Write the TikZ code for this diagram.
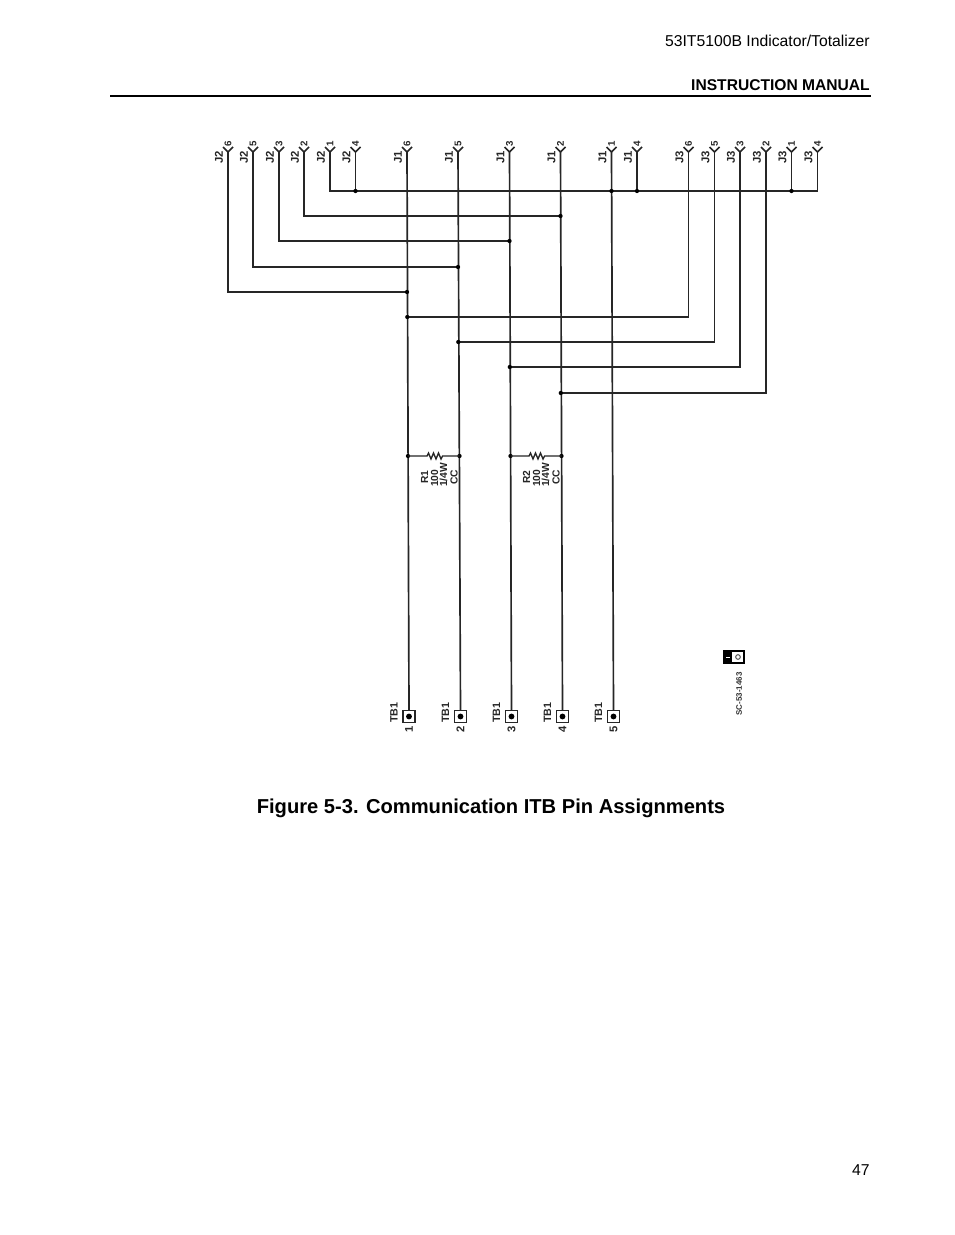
\documentclass[tikz,border=0pt]{standalone}
\usepackage{fontspec}
\setmainfont{Liberation Sans}
\tikzset{
  wire/.style={line width=1.25pt,black!85,line cap=round},
  dotnode/.style={circle,fill=black,inner sep=0pt,minimum size=3.2pt},
  pinlabel/.style={rotate=90,font=\fontsize{8.5}{8}\selectfont\bfseries,inner sep=0pt,text=black!85},
  pinnum/.style={rotate=90,font=\fontsize{7.3}{6}\selectfont\bfseries,inner sep=0pt,text=black!85},
  vee/.style={line width=1.1pt,black!85},
  valuetxt/.style={rotate=90,anchor=west,font=\fontsize{7.7}{7}\selectfont\bfseries,inner sep=0pt,text=black!85},
  tbsq/.style={draw=black!85,line width=1pt,minimum size=9pt,inner sep=0pt,fill=white},
  pagetxt/.style={inner sep=0pt,text=black}
}
% \pinat{name}{x}{y}{conn}{num}
\newcommand{\pinat}[5]{%
  \coordinate (#1) at (#2,152);
  \node[pinlabel] at (#2-9,#3) {#4};
  \node[pinnum] at (#2,143.5) {#5};
  \draw[vee] (#2-5,147) -- (#2,152) -- (#2+5,147);
}
\begin{document}
\begin{tikzpicture}[x=0.75pt,y=-0.75pt]
\useasboundingbox (0,0) rectangle (954,1235);
\fill[white] (0,0) rectangle (954,1235);
% header
\node[pagetxt,anchor=east,font=\fontsize{11.8}{12}\selectfont] (hdr) at (870,41) {53IT5100B Indicator/Totalizer};
\node[pagetxt,anchor=east,font=\fontsize{11.7}{12}\selectfont\bfseries] (man) at (870,85) {INSTRUCTION MANUAL};
\coordinate (ruleL) at (110,96); \coordinate (ruleR) at (871,96);
\draw[line width=1.5pt] (ruleL) -- (ruleR);
% pins
\pinat{a6}{228}{157.5}{J2}{6}
\pinat{a5}{253}{157.5}{J2}{5}
\pinat{a3}{279}{157.5}{J2}{3}
\pinat{a2}{304}{157.5}{J2}{2}
\pinat{a1}{330}{157.5}{J2}{1}
\pinat{a4}{355.5}{157.5}{J2}{4}
\pinat{b6}{407}{157.5}{J1}{6}
\pinat{b5}{458}{157.5}{J1}{5}
\pinat{b3}{509.5}{157.5}{J1}{3}
\pinat{b2}{560.5}{157.5}{J1}{2}
\pinat{b1}{611.5}{157.5}{J1}{1}
\pinat{b4}{637}{157.5}{J1}{4}
\pinat{c6}{688.5}{157.5}{J3}{6}
\pinat{c5}{714.5}{157.5}{J3}{5}
\pinat{c3}{740}{157.5}{J3}{3}
\pinat{c2}{766}{157.5}{J3}{2}
\pinat{c1}{791.5}{157.5}{J3}{1}
\pinat{c4}{817.5}{157.5}{J3}{4}
% terminals
\node[tbsq] (t1) at (409,716.5) {};
\node[tbsq] (t2) at (460.5,716.5) {};
\node[tbsq] (t3) at (511.5,716.5) {};
\node[tbsq] (t4) at (562.5,716.5) {};
\node[tbsq] (t5) at (613.5,716.5) {};
% buses
\draw[wire] (a1) |- (c4 |- 0,191) -- (c4);
\draw[wire] (a4) -- (a4 |- 0,191);
\draw[wire] (b4) -- (b4 |- 0,191);
\draw[wire] (c1) -- (c1 |- 0,191);
\draw[wire] (a2) |- (560.5,216);
\draw[wire] (a3) |- (509.5,241);
\draw[wire] (a5) |- (458,267);
\draw[wire] (a6) |- (407,292);
\draw[wire] (c6) |- (407.3,317);
\draw[wire] (c5) |- (458.3,342);
\draw[wire] (c3) |- (509.8,367);
\draw[wire] (c2) |- (560.8,393);
% long verticals
\draw[wire] (b6) -- (t1.north);
\draw[wire] (b5) -- (t2.north);
\draw[wire] (b3) -- (t3.north);
\draw[wire] (b2) -- (t4.north);
\draw[wire] (b1) -- (t5.north);
% dots
\foreach \p in {(355.5,191),(611.5,191),(637,191),(791.5,191),(560.5,216),(509.5,241),(458,267),(407,292),(407.3,317),(458.3,342),(509.8,367),(560.8,393),(408,456),(459.5,456),(510.5,456),(561.5,456)}
  \node[dotnode] at \p {};
% terminal labels
\foreach \xx/\l in {409/1,460.5/2,511.5/3,562.5/4,613.5/5}{
  \node[circle,fill=black,inner sep=0pt,minimum size=4.4pt] at (\xx,716.5) {};
  \node[pinlabel,font=\fontsize{8}{8}\selectfont\bfseries] at (\xx-15,712.5) {TB1};
  \node[pinlabel,font=\fontsize{8.4}{8}\selectfont\bfseries] at (\xx,729) {\l};
}
% resistors
\coordinate (r1l) at (408,456); \coordinate (r1r) at (459.5,456);
\coordinate (r2l) at (510.5,456); \coordinate (r2r) at (561.5,456);
\draw[line width=1pt,black!85] (r1l) -- (427,456) -- ++(1.5,-3) -- ++(2.5,6) -- ++(2.5,-6) -- ++(2.5,6) -- ++(2.5,-6) -- ++(2.5,6) -- ++(1.5,-3) -- (r1r);
\draw[line width=1pt,black!85] (r2l) -- (529,456) -- ++(1.5,-3) -- ++(2.5,6) -- ++(2.5,-6) -- ++(2.5,6) -- ++(2.5,-6) -- ++(2.5,6) -- ++(1.5,-3) -- (r2r);
\node[valuetxt] at (424.5,484) {R1};
\node[valuetxt] at (434.5,487) {100};
\node[valuetxt] at (443.5,487) {1/4W};
\node[valuetxt] at (454,485) {CC};
\node[valuetxt] at (526.5,484) {R2};
\node[valuetxt] at (536.5,487) {100};
\node[valuetxt] at (545.5,487) {1/4W};
\node[valuetxt] at (556,485) {CC};
% sheet mark
\node[draw=black,line width=0.9pt,minimum width=15pt,minimum height=9pt,inner sep=0pt] (mk) at (734,657) {};
\fill[black] (724,651) rectangle (732,663);
\draw[white,line width=0.5pt] (726,657) -- (730,657);
\node[circle,draw=black!70,line width=0.7pt,inner sep=0pt,minimum size=3.5pt] at (738,657) {};
\node[rotate=90,inner sep=0pt,font=\fontsize{6}{6}\selectfont\bfseries,text=black!80] (sc) at (739,694) {SC-53-1463};
% caption
\node[pagetxt,font=\fontsize{15.1}{16}\selectfont\bfseries] (cap) at (491,808) {Figure 5-3. Communication ITB Pin Assignments};
\node[pagetxt,anchor=east,font=\fontsize{11.8}{12}\selectfont] (pg) at (870,1170) {47};
\end{tikzpicture}
\end{document}
